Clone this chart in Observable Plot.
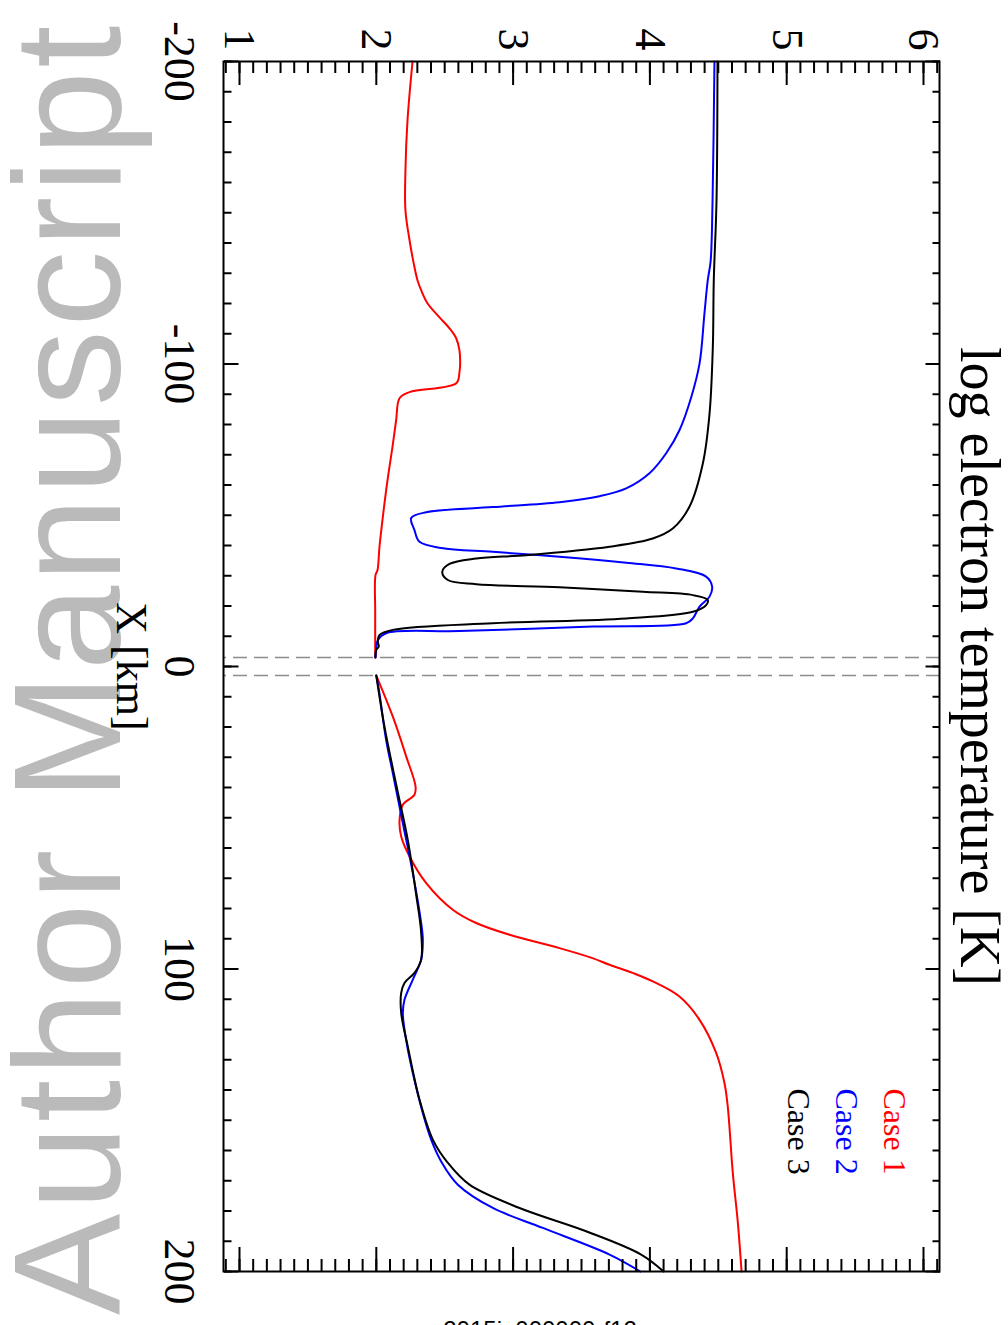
<!DOCTYPE html>
<html><head><meta charset="utf-8">
<script src="https://cdn.jsdelivr.net/npm/d3@7"></script>
<script src="https://cdn.jsdelivr.net/npm/@observablehq/plot@0.6"></script>
<style>
html,body{margin:0;padding:0;background:#fff;}
#page{position:relative;width:1008px;height:1325px;overflow:hidden;background:#fff;}
#wm{position:absolute;left:0;top:0;}
#chart{position:absolute;left:0;top:0;width:1325px;height:1008px;transform-origin:0 0;transform:translate(1008px,0) rotate(90deg);}
</style></head><body>
<div id="page">
<svg id="wm" width="1008" height="1325">
  <text transform="translate(120,1315) rotate(-90)" font-family="Liberation Sans" font-size="152" fill="#bababa" letter-spacing="3.5">Author Manuscript</text>
  <text x="540" y="1338" text-anchor="middle" font-family="Liberation Sans" font-size="24" fill="#000">2015ja000000-f12</text>
</svg>
<div id="chart"></div>
</div>
<script>
// ---- axis ticks / labels ----
const xMajor = [-200, -100, 0, 100, 200];
const xMinor = d3.range(-200, 201, 10);
const tMajor = [1, 2, 3, 4, 5, 6];
const tMinor = d3.range(9, 62).map(d => d / 10);
const separatrix = [-3, 3];
const caseNames = ["Case 1", "Case 2", "Case 3"];
const caseColors = ["#ff0000", "#0000ff", "#000000"];

// ---- Case 1 (red) ----
const case1X = [-200, -180.5, -164, -150.8, -140.9, -133.6, -127.7, -124.4, -120.1, -115.4, -111.8, -108.5, -104.5, -100.2, -97.3, -93.6, -90.7, -88.7, -81.4, -72.5, -65.9, -58.3, -48.4, -39.5, -31.9, -30.2, -17.7, -3,
  0,
  3, 16.6, 29.8, 39.7, 42.4, 45.7, 50.7, 56.2, 62.8, 71.6, 80.4, 84.8, 88.7, 93.1, 96.4, 98.6, 101.3, 104.1, 109.1, 116.8, 127.8, 137.7, 145.4, 167.4, 183.9, 200];
const case1T = [2.265, 2.228, 2.213, 2.213, 2.243, 2.272, 2.301, 2.328, 2.374, 2.462, 2.535, 2.584, 2.608, 2.613, 2.608, 2.584, 2.243, 2.170, 2.145, 2.118, 2.096, 2.072, 2.045, 2.023, 2.009, 1.994, 1.992, 1.992,
  NaN,
  2.0, 2.121, 2.219, 2.287, 2.279, 2.194, 2.170, 2.182, 2.243, 2.365, 2.559, 2.730, 2.974, 3.339, 3.580, 3.705, 3.873, 4.021, 4.216, 4.363, 4.485, 4.545, 4.569, 4.606, 4.643, 4.670];

// ---- Case 2 (blue) ----
const case2X = [-200, -154, -134, -127.7, -116.8, -100.2, -89, -78.1, -70.5, -63.9, -58.9, -56.3, -54.3, -52.7, -51, -49.1, -45.1, -41.2, -39.2, -37.9, -36.3, -34.3, -32.4, -29.7, -26.4, -23.1, -19.8, -15.9, -14.3, -13.2, -11.7, -11, -8.7, -5.5, -3,
  0,
  3, 8, 24.3, 35.3, 51.8, 68.3, 84.8, 90.3, 96.9, 103.5, 110.2, 114.6, 123.4, 134.4, 147.6, 156.4, 163.6, 171.3, 179, 185.6, 194.4, 200];
const case2T = [4.472, 4.458, 4.444, 4.423, 4.399, 4.363, 4.302, 4.216, 4.119, 3.997, 3.827, 3.632, 3.339, 2.852, 2.365, 2.255, 2.279, 2.316, 2.474, 2.852, 3.339, 3.827, 4.192, 4.411, 4.455, 4.436, 4.363, 4.314, 4.265, 3.583, 2.608, 2.072, 2.011, 1.999, 1.994,
  NaN,
  2.0, 2.02, 2.072, 2.121, 2.194, 2.267, 2.328, 2.340, 2.328, 2.267, 2.206, 2.194, 2.218, 2.267, 2.340, 2.401, 2.474, 2.596, 2.852, 3.217, 3.705, 3.93];

// ---- Case 3 (black) ----
const case3X = [-200, -154, -127.7, -105.6, -83.6, -67.1, -52.8, -45.6, -42.3, -39.6, -36.8, -35.7, -33.9, -31.3, -28.6, -27.2, -26.2, -24.7, -23.6, -22, -20.3, -18.1, -15.9, -14.3, -12.1, -10.4, -8.2, -6.6, -5.5, -3,
  0,
  3, 20, 40, 57.3, 75, 88, 96.9, 101.3, 104.6, 107.9, 114.6, 125.6, 143.2, 156.4, 164.1, 171.3, 179, 186.7, 194.4, 200];
const case3T = [4.494, 4.487, 4.467, 4.460, 4.436, 4.387, 4.289, 4.167, 4.021, 3.705, 3.096, 2.730, 2.535, 2.482, 2.523, 2.730, 3.339, 3.948, 4.314, 4.423, 4.411, 4.314, 3.827, 2.852, 2.121, 2.023, 2.011, 2.018, 1.999, 1.994,
  NaN,
  2.0, 2.06, 2.15, 2.23, 2.29, 2.328, 2.328, 2.279, 2.206, 2.182, 2.182, 2.230, 2.316, 2.413, 2.523, 2.681, 3.047, 3.534, 3.936, 4.10];

const toRows = (xs, ts) => xs.map((X, i) => ({X, T: ts[i]}));
const series = [toRows(case1X, case1T), toRows(case2X, case2T), toRows(case3X, case3T)];

const W = 1325, H = 1008;
const mL = 61, mR = 54, mT = 68, mB = 224;
const FW = W - mL - mR, FH = H - mT - mB;

const plot = Plot.plot({
  width: W, height: H,
  marginLeft: mL, marginRight: mR, marginTop: mT, marginBottom: mB,
  x: {domain: [-200, 200], axis: null},
  y: {domain: [0.883, 6.117], axis: null},
  style: {background: "transparent", maxWidth: "none", fontFamily: "Liberation Serif", color: "black", overflow: "visible"},
  marks: [
    Plot.ruleX(separatrix, {x: d => d, stroke: "#8c8c8c", strokeWidth: 1.5, strokeDasharray: "14,7"}),
    ...series.map((rows, i) => Plot.line(rows, {x: "X", y: "T", stroke: caseColors[i], strokeWidth: 2, curve: "catmull-rom"})),
    // X ticks (bottom & top)
    Plot.tickX(xMinor, {x: d => d, insetTop: FH - 7.5, strokeWidth: 2}),
    Plot.tickX(xMajor, {x: d => d, insetTop: FH - 14.5, strokeWidth: 2}),
    Plot.tickX(xMinor, {x: d => d, insetBottom: FH - 7.5, strokeWidth: 2}),
    Plot.tickX(xMajor, {x: d => d, insetBottom: FH - 14.5, strokeWidth: 2}),
    // T ticks (left & right)
    Plot.tickY(tMinor, {y: d => d, insetRight: FW - 12, strokeWidth: 2}),
    Plot.tickY(tMajor, {y: d => d, insetRight: FW - 24, strokeWidth: 2}),
    Plot.tickY(tMinor, {y: d => d, insetLeft: FW - 12, strokeWidth: 2}),
    Plot.tickY(tMajor, {y: d => d, insetLeft: FW - 24, strokeWidth: 2}),
    Plot.frame({stroke: "black", strokeWidth: 2}),
    Plot.text(xMajor, {x: d => d, text: d => String(d), frameAnchor: "bottom", dy: 44, fontSize: 44, lineAnchor: "middle", fill: "black"}),
    Plot.text(tMajor, {y: d => d, text: d => String(d), frameAnchor: "left", dx: -22, fontSize: 44, textAnchor: "middle", fill: "black"}),
    Plot.text(["log electron temperature [K]"], {text: d => d, frameAnchor: "top", dy: -39, fontSize: 56, lineAnchor: "middle", fill: "black"}),
    Plot.text(["X [km]"], {text: d => d, frameAnchor: "bottom", dy: 92, fontSize: 44, lineAnchor: "middle", fill: "black"}),
    ...caseNames.map((name, i) => Plot.text([name], {text: d => d, frameAnchor: "top-left", dx: 1027, dy: 45 + 48 * i, fontSize: 32, textAnchor: "start", lineAnchor: "middle", fill: caseColors[i]}))
  ]
});
document.getElementById("chart").appendChild(plot);
</script>
</body></html>
